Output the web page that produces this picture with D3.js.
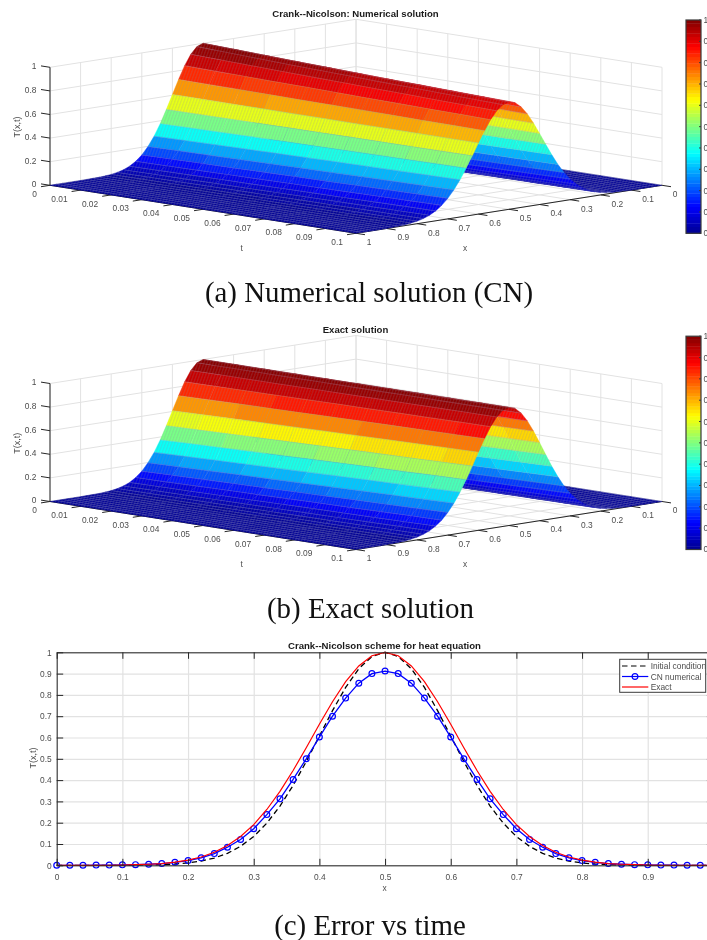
<!DOCTYPE html>
<html>
<head>
<meta charset="utf-8">
<script src="https://cdn.jsdelivr.net/npm/d3@7"></script>
<style>
  html, body { margin: 0; background: #fff; overflow: hidden; }
  svg { display: block; filter: blur(0.35px); }
  text { font-family: "Liberation Sans", sans-serif; }
  .tick-label { font-size: 8.4px; fill: #4d4d4d; }
  .plot-title { font-size: 9.6px; font-weight: bold; fill: #1a1a1a; text-anchor: middle; }
  .caption { font-family: "Liberation Serif", serif; font-size: 28.9px; fill: #111; text-anchor: middle; }
</style>
</head>
<body>
<svg id="chart" width="707" height="940">
  <defs>
    <!-- the fine mesh of the surface, one stroke per time step -->
    <pattern id="mesh" patternUnits="userSpaceOnUse" width="3.06" height="10" patternTransform="skewX(-20)">
      <rect width="1.3" height="10" fill="#8c8c9c" fill-opacity="0.2"></rect>
    </pattern>
  </defs>
</svg>
<script>
// Values
const tRows = [0, 0.01, 0.02, 0.03, 0.04, 0.05, 0.06, 0.07, 0.08, 0.09, 0.1];
const xGrid = [0, 0.02, 0.04, 0.06, 0.08, 0.1, 0.12, 0.14, 0.16, 0.18, 0.2, 0.22, 0.24, 0.26, 0.28, 0.3, 0.32, 0.34, 0.36, 0.38, 0.4, 0.42, 0.44, 0.46, 0.48, 0.5,
  0.52, 0.54, 0.56, 0.58, 0.6, 0.62, 0.64, 0.66, 0.68, 0.7, 0.72, 0.74, 0.76, 0.78, 0.8, 0.82, 0.84, 0.86, 0.88, 0.9, 0.92, 0.94, 0.96, 0.98, 1];

// T on one side of the ridge, first value at x=0.5, then every 0.02 away from it
const exactRows = [
  [1, 0.980, 0.923, 0.835, 0.726, 0.607, 0.487, 0.375, 0.278, 0.198, 0.135, 0.089, 0.056, 0.034, 0.020, 0.011, 0.006, 0.003, 0.002, 0.001, 0, 0, 0, 0, 0, 0],
  [1, 0.981, 0.925, 0.838, 0.731, 0.613, 0.494, 0.383, 0.285, 0.205, 0.141, 0.093, 0.060, 0.037, 0.022, 0.012, 0.007, 0.003, 0.002, 0.001, 0, 0, 0, 0, 0, 0],
  [1, 0.981, 0.926, 0.841, 0.736, 0.619, 0.501, 0.390, 0.293, 0.211, 0.147, 0.098, 0.063, 0.039, 0.023, 0.013, 0.007, 0.004, 0.002, 0.001, 0, 0, 0, 0, 0, 0],
  [1, 0.981, 0.927, 0.844, 0.740, 0.625, 0.508, 0.398, 0.300, 0.218, 0.152, 0.103, 0.067, 0.042, 0.025, 0.014, 0.008, 0.004, 0.002, 0.001, 0.001, 0, 0, 0, 0, 0],
  [1, 0.982, 0.929, 0.847, 0.744, 0.630, 0.515, 0.405, 0.307, 0.224, 0.158, 0.107, 0.070, 0.044, 0.027, 0.016, 0.009, 0.005, 0.003, 0.001, 0.001, 0, 0, 0, 0, 0],
  [1, 0.982, 0.930, 0.850, 0.749, 0.636, 0.521, 0.412, 0.314, 0.231, 0.164, 0.112, 0.074, 0.047, 0.029, 0.017, 0.010, 0.005, 0.003, 0.001, 0.001, 0, 0, 0, 0, 0],
  [1, 0.982, 0.931, 0.852, 0.753, 0.641, 0.528, 0.419, 0.321, 0.237, 0.169, 0.117, 0.078, 0.050, 0.031, 0.018, 0.011, 0.006, 0.003, 0.002, 0.001, 0, 0, 0, 0, 0],
  [1, 0.983, 0.933, 0.855, 0.757, 0.647, 0.534, 0.426, 0.328, 0.244, 0.175, 0.121, 0.081, 0.052, 0.033, 0.020, 0.012, 0.006, 0.004, 0.002, 0.001, 0, 0, 0, 0, 0],
  [1, 0.983, 0.934, 0.857, 0.760, 0.652, 0.540, 0.432, 0.334, 0.250, 0.180, 0.126, 0.085, 0.055, 0.035, 0.021, 0.012, 0.007, 0.004, 0.002, 0.001, 0, 0, 0, 0, 0],
  [1, 0.983, 0.935, 0.860, 0.764, 0.657, 0.546, 0.439, 0.341, 0.256, 0.186, 0.131, 0.089, 0.058, 0.037, 0.023, 0.014, 0.008, 0.004, 0.002, 0.001, 0, 0, 0, 0, 0],
  [1, 0.984, 0.936, 0.862, 0.768, 0.662, 0.552, 0.445, 0.347, 0.262, 0.191, 0.135, 0.093, 0.061, 0.039, 0.024, 0.015, 0.008, 0.005, 0.003, 0.001, 0, 0, 0, 0, 0]
];
const numericalRows = [
  [1, 0.980, 0.923, 0.835, 0.726, 0.607, 0.487, 0.375, 0.278, 0.198, 0.135, 0.089, 0.056, 0.034, 0.020, 0.011, 0.006, 0.003, 0.002, 0.001, 0, 0, 0, 0, 0, 0],
  [0.990, 0.971, 0.915, 0.829, 0.723, 0.607, 0.489, 0.379, 0.282, 0.203, 0.140, 0.092, 0.059, 0.037, 0.022, 0.012, 0.007, 0.003, 0.002, 0.001, 0, 0, 0, 0, 0, 0],
  [0.980, 0.961, 0.907, 0.824, 0.721, 0.606, 0.491, 0.382, 0.287, 0.207, 0.144, 0.096, 0.062, 0.038, 0.023, 0.013, 0.007, 0.004, 0.002, 0.001, 0, 0, 0, 0, 0, 0],
  [0.970, 0.951, 0.899, 0.819, 0.718, 0.606, 0.493, 0.386, 0.291, 0.211, 0.147, 0.100, 0.065, 0.041, 0.024, 0.014, 0.008, 0.004, 0.002, 0.001, 0.001, 0, 0, 0, 0, 0],
  [0.961, 0.943, 0.892, 0.814, 0.715, 0.605, 0.495, 0.389, 0.295, 0.215, 0.152, 0.103, 0.067, 0.042, 0.026, 0.015, 0.009, 0.005, 0.003, 0.001, 0.001, 0, 0, 0, 0, 0],
  [0.951, 0.934, 0.885, 0.809, 0.713, 0.605, 0.496, 0.392, 0.299, 0.220, 0.156, 0.107, 0.070, 0.045, 0.028, 0.016, 0.010, 0.005, 0.003, 0.001, 0.001, 0, 0, 0, 0, 0],
  [0.942, 0.925, 0.877, 0.803, 0.710, 0.604, 0.498, 0.395, 0.303, 0.223, 0.159, 0.110, 0.074, 0.047, 0.029, 0.017, 0.010, 0.006, 0.003, 0.002, 0.001, 0, 0, 0, 0, 0],
  [0.934, 0.918, 0.871, 0.798, 0.707, 0.604, 0.499, 0.398, 0.306, 0.228, 0.163, 0.113, 0.076, 0.049, 0.031, 0.019, 0.011, 0.006, 0.004, 0.002, 0.001, 0, 0, 0, 0, 0],
  [0.925, 0.910, 0.864, 0.793, 0.703, 0.603, 0.500, 0.400, 0.309, 0.231, 0.167, 0.117, 0.079, 0.051, 0.032, 0.019, 0.011, 0.006, 0.004, 0.002, 0.001, 0, 0, 0, 0, 0],
  [0.917, 0.902, 0.857, 0.789, 0.701, 0.603, 0.501, 0.403, 0.312, 0.235, 0.171, 0.120, 0.082, 0.053, 0.034, 0.021, 0.013, 0.007, 0.004, 0.002, 0.001, 0, 0, 0, 0, 0],
  [0.909, 0.895, 0.851, 0.784, 0.698, 0.602, 0.502, 0.405, 0.315, 0.238, 0.174, 0.123, 0.084, 0.055, 0.035, 0.022, 0.014, 0.007, 0.005, 0.003, 0.001, 0, 0, 0, 0, 0]
];

// Line chart, same half profiles from x=0.5 outwards
const initialCurve = exactRows[0];
const cnCurve = [0.912, 0.900, 0.855, 0.785, 0.700, 0.602, 0.500, 0.403, 0.312, 0.238, 0.172, 0.121, 0.085, 0.055, 0.035, 0.022, 0.014, 0.008, 0.005, 0.003, 0.002, 0.001, 0.001, 0, 0, 0];
const exactCurve = exactRows[10];

const tTicks = [0, 0.01, 0.02, 0.03, 0.04, 0.05, 0.06, 0.07, 0.08, 0.09, 0.1];
const xTicks = [0, 0.1, 0.2, 0.3, 0.4, 0.5, 0.6, 0.7, 0.8, 0.9, 1];
const zTicks = [0, 0.2, 0.4, 0.6, 0.8, 1];
const yTicks = [0, 0.1, 0.2, 0.3, 0.4, 0.5, 0.6, 0.7, 0.8, 0.9, 1];
const barTicks = ["0", "0.1", "0.2", "0.3", "0.4", "0.5", "0.6", "0.7", "0.8", "0.9", "1"];
const legendNames = ["Initial condition", "CN numerical", "Exact"];
const jetStops = [0, 0.125, 0.375, 0.625, 0.875, 1];
const jetColours = ["#00008f", "#0000ff", "#00ffff", "#ffff00", "#ff0000", "#800000"];

const svg = d3.select("#chart");
const GRID = "#e2e2e2", AXIS = "#262626";

// matlab style jet with 64 flat levels
const jetScale = d3.scaleLinear().domain(jetStops).range(jetColours);
const jet = v => jetScale((Math.min(63, Math.floor(v * 64)) + 0.5) / 64);

// 3D view shared by the two surface plots
const tFrac = d3.scaleLinear().domain([0, 0.1]).range([0, 1]);
const xFrac = d3.scaleLinear().domain([1, 0]).range([0, 1]);
const zPix = d3.scaleLinear().domain([0, 1]).range([0, -118]);
const project = (t, x, z) => [
  50 + 306 * tFrac(t) + 306 * xFrac(x),
  185.3 + 48 * tFrac(t) - 48 * xFrac(x) + zPix(z)
];
const seg = (g, a, b) => g.append("line")
  .attr("x1", a[0]).attr("y1", a[1]).attr("x2", b[0]).attr("y2", b[1]);
const polyline = d3.line();

function fullProfile(halfRow) {
  // ascending x, the picture is symmetric round x=0.5
  return halfRow.slice(1).reverse().concat(halfRow);
}

function drawSurfacePlot(dy, title, rows) {
  const g = svg.append("g").attr("transform", `translate(0,${dy})`);
  const T = rows.map(fullProfile);

  // back walls and floor grid
  const grid = g.append("g").attr("stroke", GRID).attr("stroke-width", 1).attr("fill", "none");
  xTicks.forEach(x => {
    seg(grid, project(0, x, 0), project(0, x, 1));
    seg(grid, project(0, x, 0), project(0.1, x, 0));
  });
  tTicks.forEach(t => {
    seg(grid, project(t, 0, 0), project(t, 0, 1));
    seg(grid, project(t, 0, 0), project(t, 1, 0));
  });
  zTicks.forEach(z => {
    seg(grid, project(0, 1, z), project(0, 0, z));
    seg(grid, project(0, 0, z), project(0.1, 0, z));
  });

  // axis lines and ticks
  const axes = g.append("g").attr("stroke", AXIS).attr("stroke-width", 1);
  seg(axes, project(0, 1, 0), project(0, 1, 1));
  seg(axes, project(0, 1, 0), project(0.1, 1, 0));
  seg(axes, project(0.1, 1, 0), project(0.1, 0, 0));
  tTicks.forEach(t => {
    const p = project(t, 1, 0);
    seg(axes, p, [p[0] - 9, p[1] + 1.4]);
  });
  xTicks.forEach(x => {
    const p = project(0.1, x, 0);
    seg(axes, p, [p[0] + 9, p[1] + 1.4]);
  });
  zTicks.forEach(z => {
    const p = project(0, 1, z);
    seg(axes, p, [p[0] - 9, p[1] - 1.4]);
  });

  // surface, painted from the back corner forward, one column of faces per x step
  const columns = d3.range(xGrid.length - 1).map(i => {
    const near = tRows.map((t, j) => project(t, xGrid[i], T[j][i]));
    const far = tRows.map((t, j) => project(t, xGrid[i + 1], T[j][i + 1]));
    return {
      line: near,
      outline: near.concat(far.slice().reverse()),
      faces: d3.range(tRows.length - 1).map(j => ({
        v: T[j][i],
        pts: [near[j], far[j], far[j + 1], near[j + 1]]
      }))
    };
  });
  const col = g.append("g").selectAll("g").data(columns).join("g");
  col.selectAll("path").data(d => d.faces).join("path")
    .attr("d", d => polyline(d.pts) + "Z")
    .attr("fill", d => jet(d.v))
    .attr("stroke", d => jet(d.v))
    .attr("stroke-width", 0.4);
  col.append("path")
    .attr("d", d => polyline(d.outline) + "Z")
    .attr("fill", "url(#mesh)");
  col.append("path")
    .attr("d", d => polyline(d.line))
    .attr("fill", "none")
    .attr("stroke", "#9a9ac0")
    .attr("stroke-opacity", 0.24)
    .attr("stroke-width", 1.1);

  // tick labels
  g.append("g").selectAll("text").data(tTicks).join("text")
    .attr("class", "tick-label")
    .attr("text-anchor", "end")
    .attr("x", d => project(d, 1, 0)[0] - 13)
    .attr("y", d => project(d, 1, 0)[1] + 11.7)
    .text(d => d);
  g.append("g").selectAll("text").data(xTicks).join("text")
    .attr("class", "tick-label")
    .attr("x", d => project(0.1, d, 0)[0] + 10.8)
    .attr("y", d => project(0.1, d, 0)[1] + 11.8)
    .text(d => d);
  g.append("g").selectAll("text").data(zTicks).join("text")
    .attr("class", "tick-label")
    .attr("text-anchor", "end")
    .attr("x", 36.5)
    .attr("y", d => project(0, 1, d)[1] + 2)
    .text(d => d);

  g.append("text").attr("class", "tick-label")
    .attr("transform", "translate(20,127) rotate(-90)")
    .attr("text-anchor", "middle").style("font-size", "9px").text("T(x,t)");
  g.append("text").attr("class", "tick-label").attr("text-anchor", "middle")
    .attr("x", 241.7).attr("y", 251).text("t");
  g.append("text").attr("class", "tick-label").attr("text-anchor", "middle")
    .attr("x", 465).attr("y", 251).text("x");
  g.append("text").attr("class", "plot-title").attr("x", 355.5).attr("y", 17).text(title);

  // colorbar
  const barY = d3.scaleLinear().domain([0, 1]).range([233.3, 20]);
  const barLevels = d3.range(64);
  g.append("g").selectAll("rect").data(barLevels).join("rect")
    .attr("x", 686).attr("width", 15)
    .attr("y", d => barY((d + 1) / 64))
    .attr("height", barY(0) - barY(1 / 64) + 0.4)
    .attr("fill", d => jet((d + 0.5) / 64));
  g.append("rect").attr("x", 686).attr("y", 20).attr("width", 15).attr("height", 213.3)
    .attr("fill", "none").attr("stroke", "#3a3a3a").attr("stroke-width", 1.2);
  g.append("g").attr("stroke", "#3a3a3a").selectAll("line").data(barTicks).join("line")
    .attr("x1", 699).attr("x2", 701)
    .attr("y1", d => barY(+d)).attr("y2", d => barY(+d));
  g.append("g").selectAll("text").data(barTicks).join("text")
    .attr("class", "tick-label")
    .attr("x", 703.5)
    .attr("y", d => barY(+d) + 3)
    .text(d => d);
}

drawSurfacePlot(0, "Crank--Nicolson: Numerical solution", numericalRows);
drawSurfacePlot(316.2, "Exact solution", exactRows);

// Line chart
const xScale = d3.scaleLinear().domain([0, 1]).range([56.7, 713.4]);
const yScale = d3.scaleLinear().domain([0, 1]).range([865.3, 652.3]);
const plot = svg.append("g");

const style = (sel, colour) => {
  sel.select(".domain").attr("stroke", colour);
  sel.selectAll(".tick line").attr("stroke", colour);
  sel.selectAll("text").attr("class", "tick-label").attr("font-family", null).attr("font-size", null);
};
plot.append("g").attr("transform", "translate(0,865.3)")
  .call(d3.axisBottom(xScale).tickValues(xTicks).tickSize(-213).tickFormat(""))
  .call(s => { s.select(".domain").remove(); s.selectAll("line").attr("stroke", GRID).attr("stroke-width", 1.2); });
plot.append("g").attr("transform", "translate(56.7,0)")
  .call(d3.axisLeft(yScale).tickValues(yTicks).tickSize(-656.7).tickFormat(""))
  .call(s => { s.select(".domain").remove(); s.selectAll("line").attr("stroke", GRID).attr("stroke-width", 1.2); });

const full = a => fullProfile(a).map((v, i) => [xGrid[i], v]);
const curve = d3.line().x(d => xScale(d[0])).y(d => yScale(d[1]));
plot.append("path").attr("d", curve(full(initialCurve))).attr("fill", "none")
  .attr("stroke", "#000").attr("stroke-width", 1.3).attr("stroke-dasharray", "5.5 3.5");
plot.append("path").attr("d", curve(full(cnCurve))).attr("fill", "none")
  .attr("stroke", "#0000ff").attr("stroke-width", 1.3);
plot.append("g").selectAll("circle").data(full(cnCurve)).join("circle")
  .attr("cx", d => xScale(d[0])).attr("cy", d => yScale(d[1])).attr("r", 2.9)
  .attr("fill", "none").attr("stroke", "#0000ff").attr("stroke-width", 1.2);
plot.append("path").attr("d", curve(full(exactCurve))).attr("fill", "none")
  .attr("stroke", "#ff0000").attr("stroke-width", 1.2);

plot.append("g").attr("transform", "translate(0,865.3)")
  .call(d3.axisBottom(xScale).tickValues(xTicks).tickSizeInner(-6.5).tickSizeOuter(0).tickPadding(9).tickFormat(d3.format("~g")))
  .call(s => style(s, AXIS));
plot.append("g").attr("transform", "translate(0,652.3)")
  .call(d3.axisTop(xScale).tickValues(xTicks).tickSizeInner(-6.5).tickSizeOuter(0).tickFormat(""))
  .call(s => style(s, AXIS));
plot.append("g").attr("transform", "translate(56.7,0)")
  .call(d3.axisLeft(yScale).tickValues(yTicks).tickSizeInner(-6.5).tickSizeOuter(0).tickPadding(5).tickFormat(d3.format("~g")))
  .call(s => style(s, AXIS));
plot.append("g").attr("transform", "translate(713.4,0)")
  .call(d3.axisRight(yScale).tickValues(yTicks).tickSizeInner(-6.5).tickSizeOuter(0).tickFormat(""))
  .call(s => style(s, AXIS));

plot.append("text").attr("class", "tick-label")
  .attr("transform", "translate(36,758) rotate(-90)")
  .attr("text-anchor", "middle").style("font-size", "9px").text("T(x,t)");
plot.append("text").attr("class", "tick-label").attr("text-anchor", "middle")
  .attr("x", 384.7).attr("y", 891).text("x");
plot.append("text").attr("class", "plot-title").attr("x", 384.5).attr("y", 649)
  .text("Crank--Nicolson scheme for heat equation");

// Legend
const legend = plot.append("g");
legend.append("rect").attr("x", 619.7).attr("y", 659.3).attr("width", 86).attr("height", 33)
  .attr("fill", "#fff").attr("stroke", "#3a3a3a").attr("stroke-width", 1);
const legendY = d3.scalePoint().domain(legendNames).range([666, 687]);
const legendStroke = d3.scaleOrdinal().domain(legendNames).range(["#000", "#0000ff", "#ff0000"]);
legend.selectAll("line").data(legendNames).join("line")
  .attr("x1", 622).attr("x2", 648.3)
  .attr("y1", legendY).attr("y2", legendY)
  .attr("stroke", legendStroke).attr("stroke-width", 1.2)
  .attr("stroke-dasharray", (d, i) => i === 0 ? "5.5 3.5" : null);
legend.append("circle").attr("cx", 635).attr("cy", legendY("CN numerical")).attr("r", 2.9)
  .attr("fill", "none").attr("stroke", "#0000ff").attr("stroke-width", 1.2);
legend.selectAll("text").data(legendNames).join("text")
  .attr("class", "tick-label")
  .attr("x", 650.7).attr("y", d => legendY(d) + 3).text(d => d);

// Captions
const captions = svg.append("g");
captions.append("text").attr("class", "caption").attr("x", 369).attr("y", 302).text("(a) Numerical solution (CN)");
captions.append("text").attr("class", "caption").attr("x", 370.5).attr("y", 618).text("(b) Exact solution");
captions.append("text").attr("class", "caption").attr("x", 370).attr("y", 935).text("(c) Error vs time");
</script>
</body>
</html>
